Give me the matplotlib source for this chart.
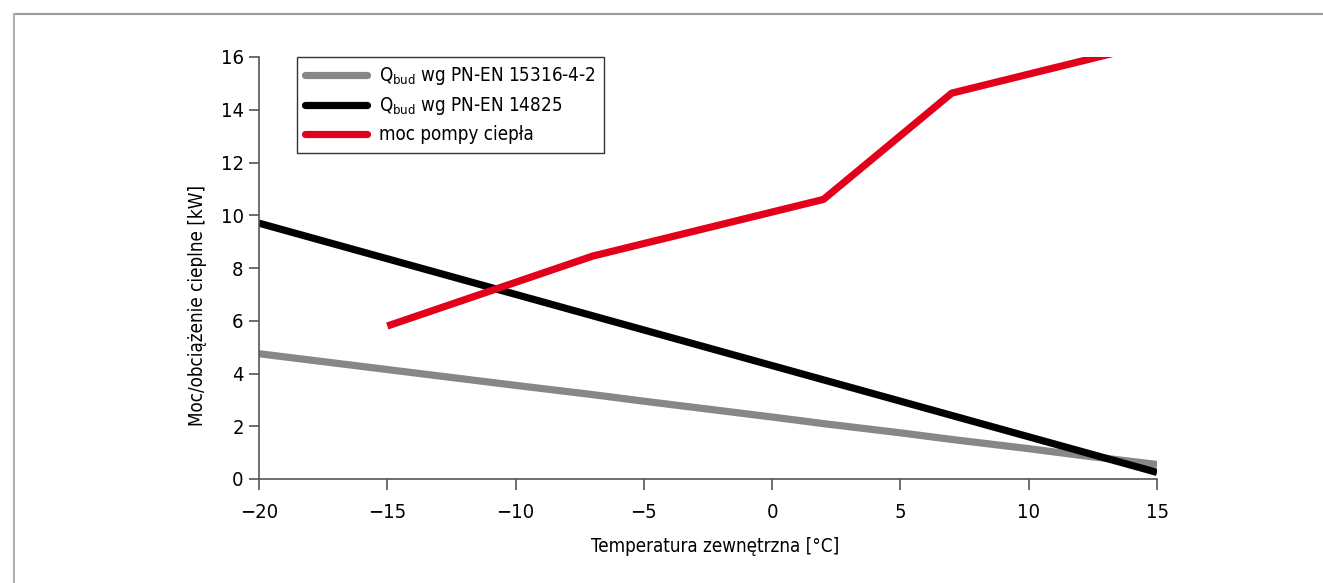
import matplotlib
matplotlib.use("Agg")
import matplotlib.pyplot as plt
from matplotlib.lines import Line2D
from matplotlib import font_manager

# pick a narrow face if one is installed
narrow = None
for f in font_manager.fontManager.ttflist:
    if 'Narrow' in f.name or 'Condensed' in f.name or f.stretch in ('condensed', 'semi-condensed'):
        narrow = f
        break
if narrow is not None:
    face = narrow.name
    plt.rcParams['font.stretch'] = narrow.stretch
else:
    face = 'Liberation Sans'
plt.rcParams['font.family'] = [face, 'DejaVu Sans']
plt.rcParams['mathtext.fontset'] = 'custom'
plt.rcParams['mathtext.rm'] = face
plt.rcParams['axes.unicode_minus'] = True

# outdoor temperature [°C]
temp = [-20, -15, -10, -7, -5, 0, 2, 5, 7, 10, 12, 15]
# building heat load by PN-EN 15316-4-2 [kW]
q_15316 = [4.75, 4.15, 3.55, 3.2, 2.95, 2.35, 2.1, 1.75, 1.5, 1.15, 0.9, 0.55]
# building heat load by PN-EN 14825 [kW]
temp_14825 = [-20, 15]
q_14825 = [9.7, 0.25]
# heat pump output [kW]
temp_hp = [-15, -7, 2, 7, 15]
p_hp = [5.8, 8.45, 10.6, 14.63, 16.55]

labels = ['Q$_{\\mathrm{bud}}$ wg PN-EN 15316-4-2',
          'Q$_{\\mathrm{bud}}$ wg PN-EN 14825',
          'moc pompy ciepła']

fs = 13.5 if narrow is not None else 13
lw = 5.2

fig = plt.figure(figsize=(13.23, 5.83), dpi=100)
ax = fig.add_axes([259/1323, 1-479/583, 898/1323, 422/583])

ax.plot(temp, q_15316, color='#878787', lw=lw, solid_capstyle='butt', label=labels[0])
ax.plot(temp_14825, q_14825, color='black', lw=lw, solid_capstyle='butt', label=labels[1])
ax.plot(temp_hp, p_hp, color='#e2001a', lw=lw, solid_capstyle='butt', label=labels[2])

ax.set_xlim(-20, 15)
ax.set_ylim(0, 16)
ax.set_xticks([-20, -15, -10, -5, 0, 5, 10, 15])
ax.set_yticks(range(0, 17, 2))
for s in ['top', 'right']:
    ax.spines[s].set_visible(False)
for s in ['left', 'bottom']:
    ax.spines[s].set_color('#555555')
    ax.spines[s].set_linewidth(1.2)
ax.tick_params(axis='both', colors='#555555', labelcolor='black', labelsize=fs + 1, width=1.2)
ax.tick_params(axis='x', length=8, pad=9)
ax.tick_params(axis='y', length=7, pad=4)

ax.set_xlabel('Temperatura zewnętrzna [°C]', fontsize=fs)
ax.set_ylabel('Moc/obciążenie cieplne [kW]', fontsize=fs)
ax.xaxis.set_label_coords((715 - 259) / 898, -(537 - 479) / 422)
ax.yaxis.set_label_coords(-(259 - 207) / 898, (479 - 305) / 422)

leg = ax.legend(loc='upper left', bbox_to_anchor=(38/898, 1.0), fontsize=fs,
                frameon=True, fancybox=False, handlelength=3.3, handletextpad=0.6,
                borderpad=0.45, labelspacing=0.42, borderaxespad=0)
leg.get_frame().set_edgecolor('black')
leg.get_frame().set_linewidth(1.0)
for h in leg.get_lines():
    h.set_solid_capstyle('round')

# frame lines along the top and left edge
fig.add_artist(Line2D([14/1323, 1], [1-14/583, 1-14/583], color='#9a9a9a', lw=1.5))
fig.add_artist(Line2D([14/1323, 14/1323], [0, 1-14/583], color='#b0b0b0', lw=1.5))

fig.savefig('out.png', dpi=100)
